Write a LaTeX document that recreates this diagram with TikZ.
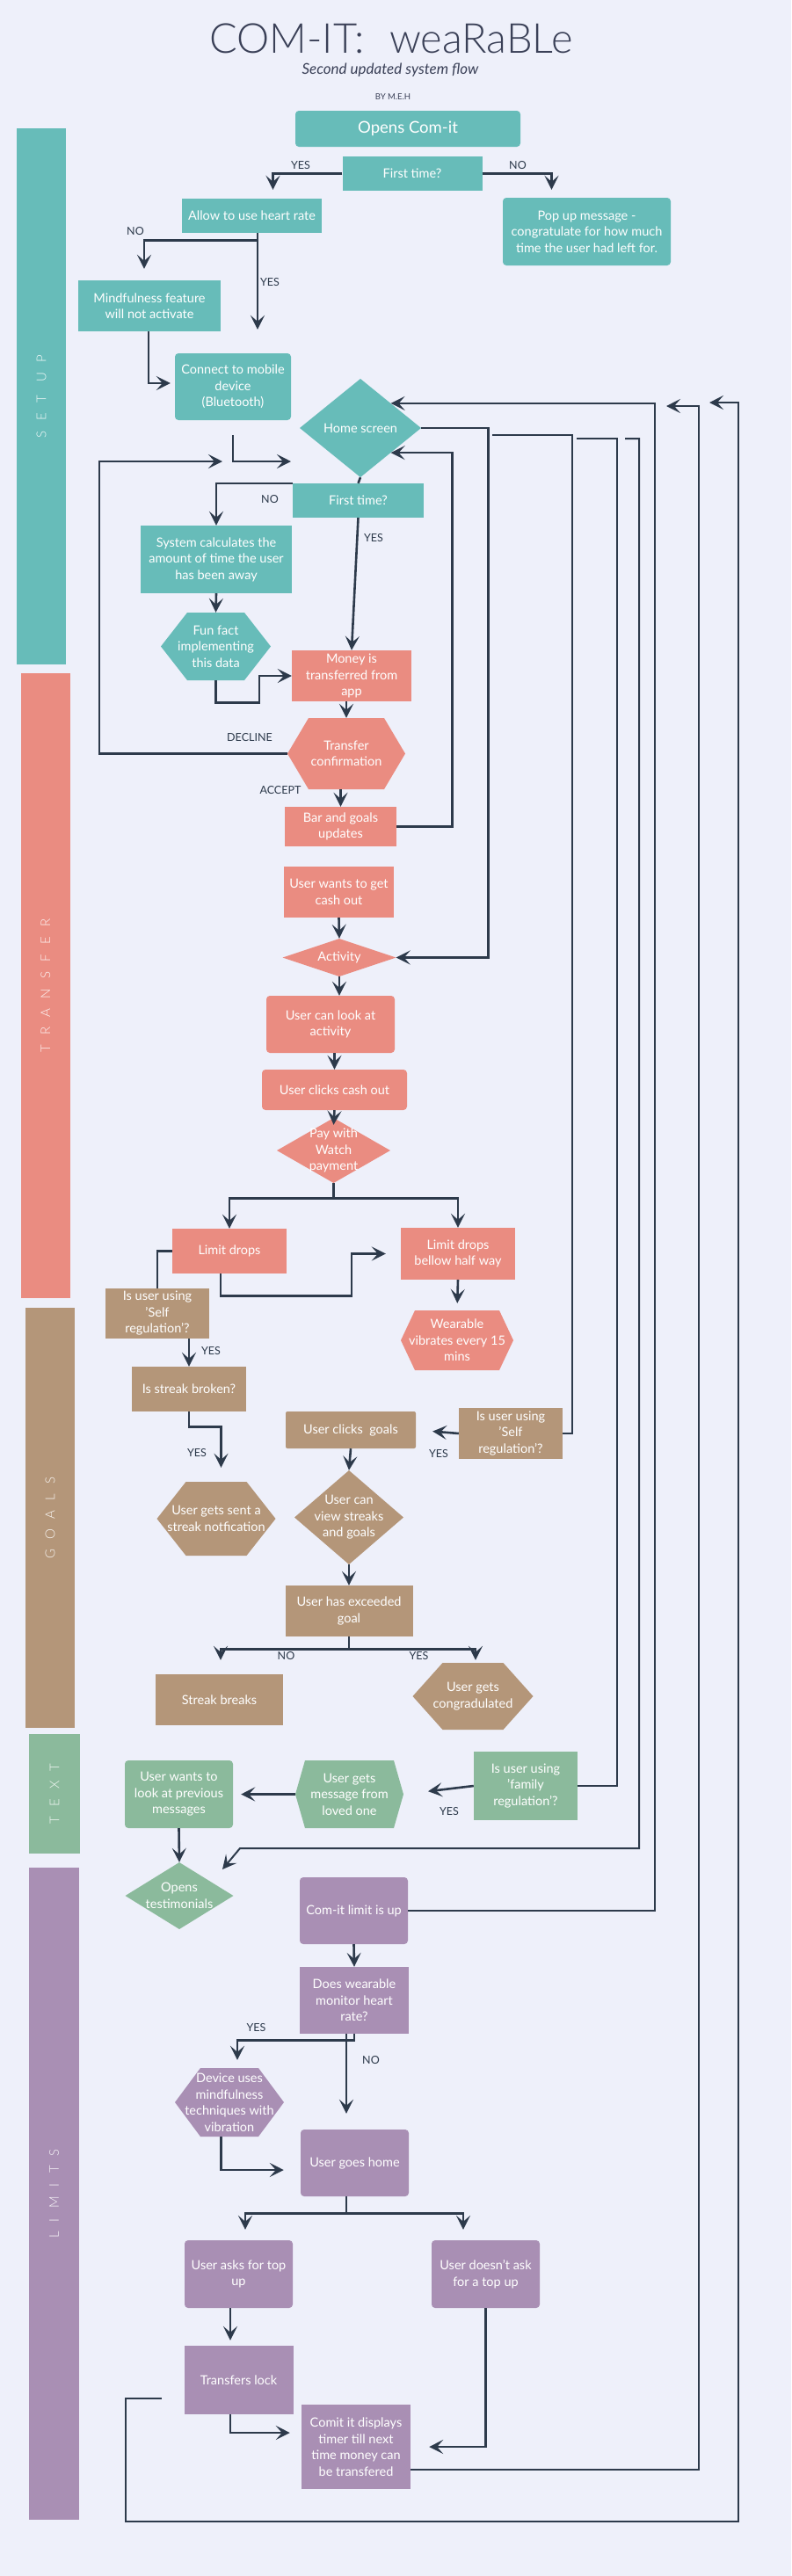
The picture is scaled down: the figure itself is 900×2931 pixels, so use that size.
\documentclass[tikz,border=0pt]{standalone}
\usepackage{fontspec}
\setmainfont{Lato}
\newfontfamily\lanefont[LetterSpace=75]{Lato Light}
\newfontfamily\titlefont{Lato Light}
\usetikzlibrary{arrows.meta,calc}

\definecolor{bgc}{HTML}{EEF0FA}
\definecolor{tl}{HTML}{67BCB9}
\definecolor{sa}{HTML}{EA8C81}
\definecolor{tn}{HTML}{B49679}
\definecolor{gr}{HTML}{8BBA9C}
\definecolor{pu}{HTML}{A98FB4}
\definecolor{ln}{HTML}{2D3A4B}
\definecolor{ttl}{HTML}{3A4057}

\newcommand{\bodyfont}{\fontsize{14.5}{18.5}\selectfont}

\tikzset{
  blk/.style={rectangle, fill=#1, text=white, align=center, inner sep=1pt, font=\bodyfont},
  rblk/.style={blk=#1, rounded corners=4pt},
  sz/.style 2 args={minimum width=#1pt, minimum height=#2pt},
  hexa/.style 2 args={rectangle, text=white, align=center, inner sep=1pt, font=\bodyfont,
    path picture={\fill[#1] (path picture bounding box.west)
      -- ([xshift=#2]path picture bounding box.north west)
      -- ([xshift=-#2]path picture bounding box.north east)
      -- (path picture bounding box.east)
      -- ([xshift=-#2]path picture bounding box.south east)
      -- ([xshift=#2]path picture bounding box.south west) -- cycle;}},
  dia/.style={rectangle, text=white, align=center, inner sep=1pt, font=\bodyfont,
    path picture={\fill[#1] (path picture bounding box.west)
      -- (path picture bounding box.north) -- (path picture bounding box.east)
      -- (path picture bounding box.south) -- cycle;}},
  conn/.style={draw=ln, line width=2.6pt, -{Stealth[length=16pt,width=16pt,inset=7pt]}},
  plain/.style={draw=ln, line width=2.6pt},
  ret/.style={draw=ln, line width=2pt},
  retarrow/.style={ret, -{Stealth[length=16pt,width=16pt,inset=7pt]}},
  lbl/.style={text=ln, font=\fontsize{12.5}{14}\selectfont},
  lanetxt/.style={text=white, text opacity=0.9, font=\lanefont\fontsize{15}{17}\selectfont}
}

\begin{document}
\begin{tikzpicture}[x=1pt, y=-1pt]
  %% background
  \fill[bgc] (0,0) rectangle (900,2931);
  \useasboundingbox (0,0) rectangle (900,2931);

  %% title
  \node[text=ttl, font=\titlefont\fontsize{47}{50}\selectfont] (title) at (445,44) {COM-IT:\hspace{0.6em}weaRaBLe};
  \node[text=ttl, font=\itshape\fontsize{17}{20}\selectfont] (subtitle) at (444,80) {Second updated system flow};
  \node[text=ttl, font=\fontsize{9.5}{11}\selectfont] (author) at (447,110) {BY M.E.H};

  %% swimlanes
  \foreach \col/\xa/\ya/\xb/\yb/\txt in {tl/19/146/75/756/SET UP, sa/23.5/766/80/1477/TRANSFER,
      tn/29/1488/85/1966/GOALS, gr/33/1973/91/2109/TEXT, pu/33/2125/90/2867/LIMITS} {
    \fill[\col] (\xa,\ya) rectangle (\xb,\yb);
    \node[lanetxt, rotate=90] (lane\col) at ({(\xa+\xb)/2},{(\ya+\yb)/2}) {\txt};
  }

  %% set up
  \node[rblk=tl, sz={256}{41}, font=\fontsize{18.5}{22}\selectfont] (open) at (464,146.5) {Opens Com-it};
  \node[blk=tl, sz={159}{39}] (ft1) at (469,197.5) {First time?};
  \node[blk=tl, sz={159}{39}] (allow) at (286.5,245.5) {Allow to use heart rate};
  \node[rblk=tl, sz={191}{77}] (popup) at (667.5,263.5) {Pop up message -\\congratulate for how much\\time the user had left for.};
  \node[blk=tl, sz={162}{58}] (mind) at (170,348) {Mindfulness feature\\will not activate};
  \node[rblk=tl, sz={132}{76}] (conn) at (265,440) {Connect to mobile\\device\\(Bluetooth)};
  \node[dia=tl, sz={138}{112}] (home) at (410,487) {Home screen};
  \node[blk=tl, sz={149}{39}] (ft2) at (407.5,569.5) {First time?};
  \node[blk=tl, sz={172}{77}] (calc) at (246,636.5) {System calculates the\\amount of time the user\\has been away};
  \node[hexa={tl}{30pt}, sz={125}{77}] (fun) at (245.5,735.5) {Fun fact\\implementing\\this data};

  %% transfer
  \node[blk=sa, sz={136}{58}] (money) at (400,769) {Money is\\transferred from\\app};
  \node[hexa={sa}{24pt}, sz={134}{81}] (trans) at (394,857.5) {Transfer\\confirmation};
  \node[blk=sa, sz={127}{45}] (bar) at (387.5,940.5) {Bar and goals\\updates};
  \node[blk=sa, sz={125}{58}] (cash) at (385.5,1015) {User wants to get\\cash out};
  \node[dia=sa, sz={129}{43}] (act) at (386,1089.5) {Activity};
  \node[rblk=sa, sz={146}{65}] (look) at (376,1165.5) {User can look at\\activity};
  \node[rblk=sa, sz={165}{46}] (click) at (380.5,1240) {User clicks cash out};
  \node[dia=sa, sz={129}{74}] (pay) at (379.5,1309) {Pay with\\Watch\\payment};
  \node[blk=sa, sz={130}{51}] (drop) at (261,1423.5) {Limit drops};
  \node[blk=sa, sz={130}{59}] (half) at (521,1426.5) {Limit drops\\bellow half way};
  \node[hexa={sa}{16pt}, sz={128}{68}] (vib) at (520,1525) {Wearable\\vibrates every 15\\mins};

  %% goals
  \node[blk=tn, sz={118}{57}] (selfl) at (179,1494.5) {Is user using\\'Self\\regulation'?};
  \node[blk=tn, sz={130}{51}] (streak) at (215,1580.5) {Is streak broken?};
  \node[hexa={tn}{33pt}, sz={135}{84}] (notif) at (246,1728) {User gets sent a\\streak notfication};
  \node[rblk=tn, sz={148}{42}, rounded corners=2pt] (goals) at (399,1627) {User clicks~ goals};
  \node[blk=tn, sz={118}{58}] (selfr) at (581,1631) {Is user using\\'Self\\regulation'?};
  \node[dia=tn, sz={124}{107}] (view) at (397,1726.5) {User can\\view streaks\\and goals};
  \node[blk=tn, sz={145}{58}] (exceed) at (397,1833) {User has exceeded\\goal};
  \node[blk=tn, sz={145}{58}] (brk) at (249.5,1934) {Streak breaks};
  \node[hexa={tn}{34pt}, sz={137}{76}] (congr) at (538,1930) {User gets\\congradulated};

  %% text
  \node[blk=gr, sz={118}{78}] (family) at (598,2032) {Is user using\\'family\\regulation'?};
  \node[hexa={gr}{11pt}, sz={123}{77}] (loved) at (397.5,2041.5) {User gets\\message from\\loved one};
  \node[rblk=gr, sz={123}{77}] (prev) at (203.5,2041.5) {User wants to\\look at previous\\messages};
  \node[dia=gr, sz={123}{76}] (testi) at (204,2157) {Opens\\testimonials};

  %% limits
  \node[rblk=pu, sz={123}{76}] (limit) at (402.5,2174) {Com-it limit is up};
  \node[blk=pu, sz={124}{76}] (hr) at (403,2276) {Does wearable\\monitor heart\\rate?};
  \node[hexa={pu}{29pt}, sz={124}{78}] (dev) at (261,2392) {Device uses\\mindfulness\\techniques with\\vibration};
  \node[rblk=pu, sz={123}{76}] (home2) at (403.5,2461) {User goes home};
  \node[rblk=pu, sz={123}{77}] (ask) at (271.5,2587.5) {User asks for top\\up};
  \node[rblk=pu, sz={123}{77}] (noask) at (552.5,2587.5) {User doesn't ask\\for a top up};
  \node[blk=pu, sz={124}{78}] (lock) at (271.5,2708) {Transfers lock};
  \node[blk=pu, sz={124}{96}] (timer) at (405,2784) {Comit it displays\\timer till next\\time money can\\be transfered};

  %% free ends
  \coordinate (homein) at (331,525);
  \coordinate (declturn) at (113,525);
  \coordinate (declend) at (253,525);
  \coordinate (brA) at (560,495);
  \coordinate (brB) at (656,499);
  \coordinate (brC) at (711,499);
  \coordinate (testiin) at (253,2127);
  \coordinate (retB) at (758,462);
  \coordinate (retCstart) at (184,2729);
  \coordinate (retCend) at (807,458);

  %% set up connectors
  \draw[conn, shorten >=10pt] (ft1.west) -| ([xshift=24pt]allow.north);
  \draw[conn, shorten >=9pt] (ft1.east) -| ([xshift=-40pt]popup.north);
  \draw[conn, shorten >=13pt] ([xshift=6.5pt]allow.south) -- ++(0,8) -| ([xshift=-6pt]mind.north);
  \draw[conn, shorten >=27pt] ([xshift=6.5pt]allow.south) -- ([xshift=28pt]conn.north);
  \draw[conn, shorten >=5pt] ([xshift=-1pt]mind.south) |- ([yshift=4pt]conn.west);
  \draw[conn] ([yshift=-17pt]conn.south) |- (homein);
  \draw[plain] (home.south) -- (ft2.north);
  \draw[conn] (ft2.north west) -| (calc.north);
  \draw[conn] (ft2.south) -- (money.north);
  \draw[conn] (calc.south) -- (fun.north);
  \draw[conn] (fun.south) -- ++(0,25) -| ([xshift=-37pt]money.west) -- (money.west);

  %% transfer connectors
  \draw[conn] (trans.north |- money.south) -- (trans.north);
  \draw[conn] (bar.north |- trans.south) -- (bar.north);
  \draw[conn] (trans.west) -| (declturn) -- (declend);
  \draw[conn] (bar.east) -- ++(63,0) |- ($(home.east)!0.5!(home.south)$);
  \draw[conn] (home.east) -- ++(76,0) |- (act.east);
  \draw[conn] (cash.south) -- (act.north);
  \draw[conn] (act.south) -- (act.south |- look.north);
  \draw[conn] (click.north |- look.south) -- (click.north);
  \draw[conn] (click.south) -- ([yshift=-8pt]pay.north);
  \draw[conn] (pay.south) -- ++(0,17) -| (drop.north);
  \draw[conn] (pay.south) -- ++(0,17) -| (half.north);
  \draw[conn, shorten >=17pt] ([xshift=-10pt]drop.south) -- ++(0,25) -| ([xshift=-56pt]half.west) -- (half.west);
  \draw[plain] (drop.west) -| (selfl.north);
  \draw[conn, shorten >=8pt] (half.south) -- (vib.north);

  %% goals connectors
  \draw[conn] (streak.north |- selfl.south) -- (streak.north);
  \draw[conn, shorten >=16pt] (streak.south) -- ++(0,17) -| ([xshift=5.5pt]notif.north);
  \draw[conn, shorten >=19pt] (selfr.west) -- (goals.east);
  \draw[conn] (goals.south) -- (view.north);
  \draw[conn] (view.south) -- (exceed.north);
  \draw[conn, shorten >=16pt] (exceed.south) -- ++(0,14) -| ([xshift=1.5pt]brk.north);
  \draw[conn, shorten >=3pt] (exceed.south) -- ++(0,14) -| ([xshift=3pt]congr.north);

  %% text connectors
  \draw[conn, shorten >=28pt] (family.west) -- (loved.east);
  \draw[conn, shorten >=9pt] (loved.west) -- (prev.east);
  \draw[conn] (prev.south) -- (testi.north);

  %% limits connectors
  \draw[conn] (limit.south) -- (hr.north);
  \draw[conn, shorten >=9pt] (hr.south) -- ++(0,7) -| ([xshift=9pt]dev.north);
  \draw[conn, shorten >=18pt] ([xshift=-9pt]hr.south) -- ([xshift=-9pt]hr.south |- home2.north);
  \draw[conn, shorten >=19pt] ([xshift=-9.5pt]dev.south) |- ([yshift=-8pt]home2.west);
  \draw[conn, shorten >=12pt] ([xshift=-9.5pt]home2.south) -- ++(0,19) -| ([xshift=7.5pt]ask.north);
  \draw[conn, shorten >=12pt] ([xshift=-9.5pt]home2.south) -- ++(0,19) -| ([xshift=-25.5pt]noask.north);
  \draw[conn, shorten >=6pt] ([xshift=-9.5pt]ask.south) -- ([xshift=-9.5pt]lock.north);
  \draw[conn, shorten >=13pt] ([xshift=-9.5pt]lock.south) |- ([yshift=16pt]timer.west);
  \draw[conn, shorten >=21pt] (noask.south) |- (timer.east);

  %% return lines on the right
  \draw[retarrow] (limit.east) -- ++(281,0) |- ($(home.north)!0.5!(home.east)$);
  \draw[retarrow] ([yshift=-26pt]timer.east) -| ([xshift=37pt]retB) -- (retB);
  \draw[retarrow] (retCstart) -| ++(-41,140) -| ([xshift=33pt]retCend) -- (retCend);
  \draw[ret] (selfr.east) -- ++(11,0) |- (brA);
  \draw[ret] (family.east) -- ++(45,0) |- (brB);
  \draw[retarrow] (brC) -| (727,2103) -- (273,2103) -- (testiin);

  %% branch labels
  \foreach \nm/\px/\py/\t in {yesa/342/188/YES, noa/589/188/NO, nob/154/263/NO, yesb/307/321/YES,
      noc/307/568/NO, yesc/425/612/YES, decl/284/839/DECLINE, acc/319/899/ACCEPT,
      yesd/240/1537/YES, yese/224/1653/YES, yesf/499/1654/YES, nod/325.5/1884/NO,
      yesg/476.5/1884/YES, yesh/511/2061/YES, yesi/291.5/2307/YES, noe/422/2344/NO} {
    \node[lbl] (\nm) at (\px,\py) {\t};
  }
\end{tikzpicture}
\end{document}
